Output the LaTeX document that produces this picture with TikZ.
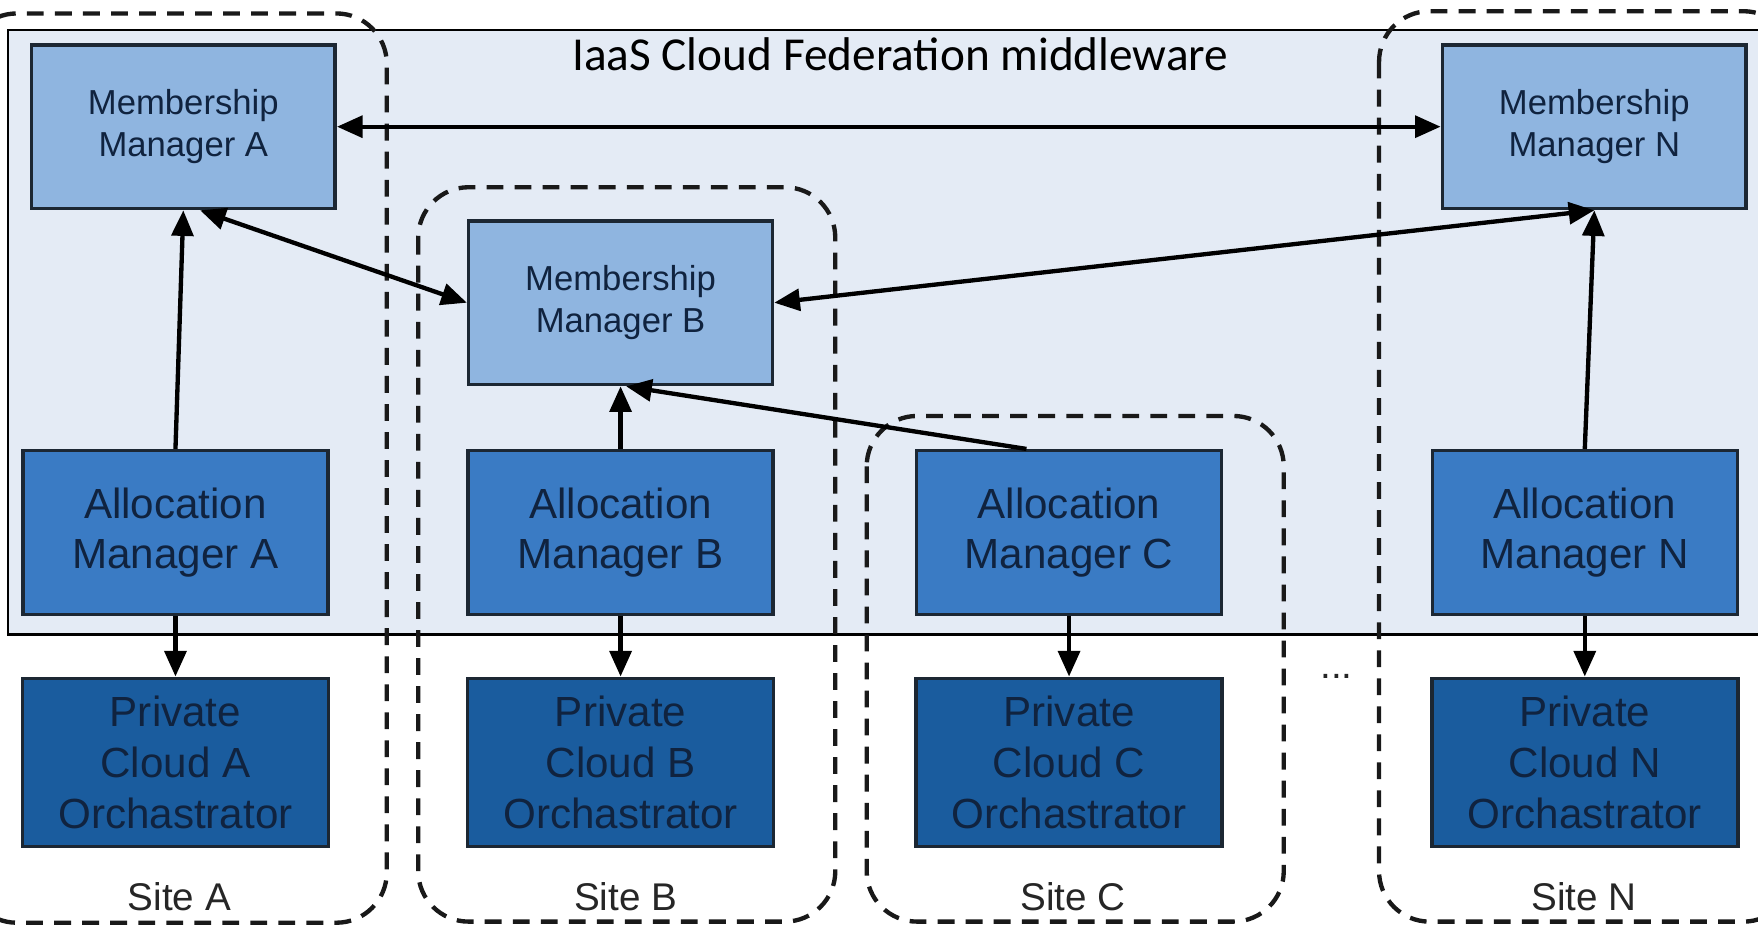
\documentclass[tikz,border=0pt]{standalone}
\usepackage{fontspec}
\setmainfont{Liberation Sans}
\newfontfamily\titlefont{Carlito}
\usepackage{xcolor}
\usepackage{tikz}
\usetikzlibrary{arrows.meta}
\definecolor{mwfill}{HTML}{E4EBF5}
\definecolor{memfill}{HTML}{8FB5E0}
\definecolor{allocfill}{HTML}{3A7BC4}
\definecolor{orchfill}{HTML}{1A5C9E}
\definecolor{boxtext}{HTML}{10233F}
\definecolor{boxline}{HTML}{1C2733}
\tikzstyle{membership} = [rectangle, minimum width=2.71cm, minimum height=1.46cm, align=center, draw=boxline, line width=0.9pt, fill=memfill, text=boxtext, font=\fontsize{8.8}{10.8}\selectfont]
\tikzstyle{allocation} = [rectangle, minimum width=2.72cm, minimum height=1.46cm, align=center, draw=boxline, line width=0.9pt, fill=allocfill, text=boxtext, font=\fontsize{10.7}{12.8}\selectfont]
\tikzstyle{orchestrator} = [rectangle, minimum width=2.73cm, minimum height=1.5cm, align=center, draw=boxline, line width=0.9pt, fill=orchfill, text=boxtext, font=\fontsize{10.7}{12.9}\selectfont]
\tikzstyle{site} = [draw=black!90, line width=1.1pt, dash pattern=on 0.15cm off 0.1cm, rounded corners=0.45cm]
\tikzstyle{sitelabel} = [text=black!85, font=\fontsize{9.8}{11}\selectfont]
\tikzstyle{arrow} = [line width=1.1pt, ->, >={Stealth[length=6.5pt, width=5.5pt, inset=0pt]}]

\begin{document}
\begin{tikzpicture}[node distance=2.05cm]
            \clip (0,0) rectangle (15.68,-8.29);
            \fill [white] (0,0) rectangle (15.68,-8.29);
            % middleware layer
            \draw [fill=mwfill, line width=0.6pt] (0.07,-0.27) rectangle (15.9,-5.66);
            \node (title) [anchor=base, font=\titlefont\fontsize{12}{14}\selectfont] at (8.03,-0.63) {IaaS Cloud Federation middleware};
            % sites
            \draw [site] (-0.3,-0.12) rectangle (3.45,-8.23);
            \draw [site] (3.73,-1.67) rectangle (7.45,-8.22);
            \draw [site] (7.73,-3.71) rectangle (11.45,-8.22);
            \draw [site] (12.30,-0.10) rectangle (16.0,-8.22);
            \node (siteA) [sitelabel] at (1.60,-8.0) {Site A};
            \node (siteB) [sitelabel] at (5.58,-8.0) {Site B};
            \node (siteC) [sitelabel] at (9.57,-8.0) {Site C};
            \node (siteN) [sitelabel] at (14.13,-8.0) {Site N};
            \node (dots) [sitelabel] at (11.92,-6.03) {...};

            \node (amA) [allocation] at (1.565,-4.75) {Allocation\\Manager A};
            \node (amB) [allocation] at (5.535,-4.75) {Allocation\\Manager B};
            \node (amC) [allocation] at (9.535,-4.75) {Allocation\\Manager C};
            \node (amN) [allocation] at (14.135,-4.75) {Allocation\\Manager N};
            \node (pcA) [orchestrator, below of=amA] {Private\\Cloud A\\Orchastrator};
            \node (pcB) [orchestrator, below of=amB] {Private\\Cloud B\\Orchastrator};
            \node (pcC) [orchestrator, below of=amC] {Private\\Cloud C\\Orchastrator};
            \node (pcN) [orchestrator, below of=amN] {Private\\Cloud N\\Orchastrator};
            \node (mmA) [membership] at (1.635,-1.13) {Membership\\Manager A};
            \node (mmB) [membership, above of=amB] {Membership\\Manager B};
            \node (mmN) [membership] at (14.22,-1.13) {Membership\\Manager N};

            \draw [arrow, <->] (mmA.east) -- (mmN.west);
            \draw [arrow, <->] ([xshift=0.15cm]mmA.south) -- (mmB.west);
            \draw [arrow, <->] (mmB.east) -- (mmN.south);
            \draw [arrow] (amA.north) -- (mmA.south);
            \draw [arrow] (amB.north) -- (mmB.south);
            \draw [arrow] ([xshift=-0.38cm]amC.north) -- ([xshift=0.05cm]mmB.south);
            \draw [arrow] (amN.north) -- (mmN.south);
            \draw [arrow] (amA) -- (pcA);
            \draw [arrow] (amB) -- (pcB);
            \draw [arrow] (amC) -- (pcC);
            \draw [arrow] (amN) -- (pcN);
        \end{tikzpicture}
\end{document}
